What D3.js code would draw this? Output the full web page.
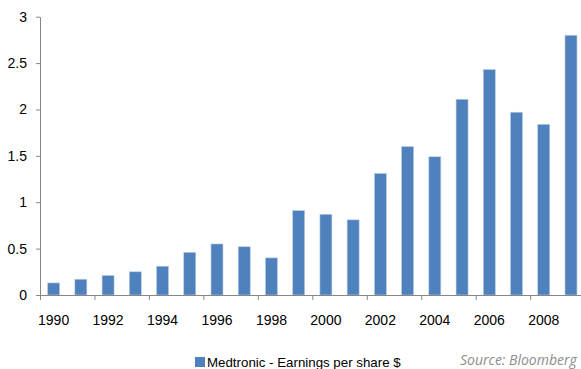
<!DOCTYPE html>
<html>
<head>
<meta charset="utf-8">
<script src="https://cdn.jsdelivr.net/npm/d3@7"></script>
<style>
  html, body { margin: 0; padding: 0; background: #fff; }
  svg { display: block; }
  .axis path, .axis line { stroke: #868686; }
  .axis text { font-family: "Liberation Sans", Arial, sans-serif; font-size: 14px; fill: #000; }
</style>
</head>
<body>
<svg id="chart" width="581" height="369"></svg>
<script>
// ---- data ----
const years = [1990,1991,1992,1993,1994,1995,1996,1997,1998,1999,
               2000,2001,2002,2003,2004,2005,2006,2007,2008,2009];
const eps = [0.13,0.17,0.21,0.25,0.31,0.46,0.55,0.52,0.40,0.91,
             0.87,0.81,1.31,1.60,1.49,2.11,2.43,1.97,1.84,2.80];
const yTicks = [0,0.5,1,1.5,2,2.5,3];
const yTickLabels = ["0","0.5","1","1.5","2","2.5","3"];
const xLabelYears = [1990,1992,1994,1996,1998,2000,2002,2004,2006,2008];
const seriesName = "Medtronic - Earnings per share $";
const sourceText = "Source: Bloomberg";

// ---- layout ----
const svg = d3.select("#chart");
const plotL = 40, plotR = 584.6, plotT = 16.7, plotB = 295;
const barColor = "#4f81bd";

const x = d3.scaleBand().domain(years).range([plotL, plotR])
  .paddingInner(0.56).paddingOuter(0.28);
const xIdx = d3.scaleLinear().domain([0, years.length]).range([plotL, plotR]);
const y = d3.scaleLinear().domain([0, 3]).range([plotB, plotT]);

// bars
svg.append("g").selectAll("rect").data(years).join("rect")
  .attr("x", d => x(d))
  .attr("width", x.bandwidth())
  .attr("y", (d,i) => y(eps[i]))
  .attr("height", (d,i) => y(0) - y(eps[i]))
  .attr("fill", barColor)
  .attr("stroke", "#b8cce4")
  .attr("stroke-width", 0.6);

// y axis
svg.append("g").attr("class","axis")
  .attr("transform", `translate(${plotL},0)`)
  .call(d3.axisLeft(y).tickValues(yTicks)
    .tickFormat((d,i) => yTickLabels[i])
    .tickSize(4).tickSizeOuter(0).tickPadding(9));

// x axis tick marks at category boundaries (every 2 categories)
svg.append("g").attr("class","axis")
  .attr("transform", `translate(0,${plotB})`)
  .call(d3.axisBottom(xIdx).tickValues(d3.range(0, years.length + 1, 2))
    .tickFormat("").tickSize(5).tickSizeOuter(0));

// x labels centered on categories
const xLabelAxis = svg.append("g").attr("class","axis")
  .attr("transform", `translate(0,${plotB})`)
  .call(d3.axisBottom(x).tickValues(xLabelYears).tickSize(0).tickPadding(20));
xLabelAxis.select(".domain").remove();

// legend
const lg = svg.append("g");
lg.append("rect").attr("x",195).attr("y",357).attr("width",10).attr("height",10).attr("fill",barColor);
lg.append("text").attr("x",207).attr("y",367)
  .style("font-family","'Liberation Sans', Arial, sans-serif")
  .style("font-size","13.3px").attr("fill","#000").text(seriesName);

// source
svg.append("text").attr("x",460).attr("y",365)
  .style("font-family","'Open Sans', sans-serif")
  .style("font-style","italic")
  .style("font-size","14px").attr("fill","#8c8c8c").text(sourceText);
</script>
</body>
</html>
